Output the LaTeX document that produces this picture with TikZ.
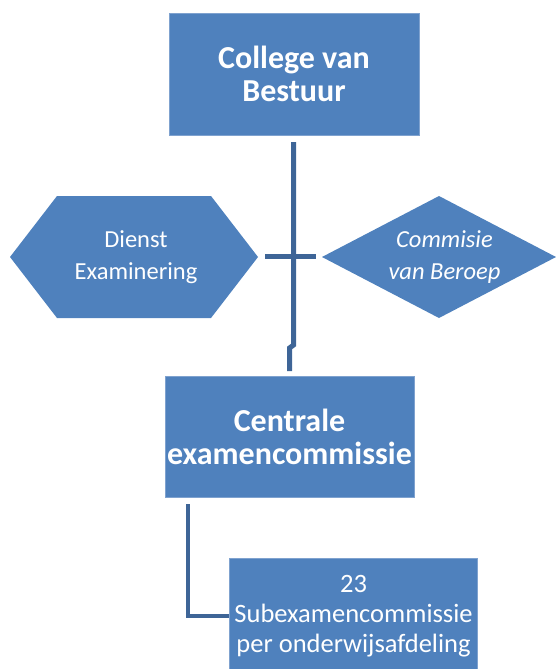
\documentclass[tikz,border=0pt]{standalone}
\usepackage{fontspec}
\setmainfont{Carlito}
\definecolor{boxblue}{HTML}{4F81BD}
\definecolor{edgeblue}{HTML}{7FA2CF}
\definecolor{linkblue}{HTML}{3E6597}
\begin{document}
\begin{tikzpicture}[x=1pt,y=-1pt,
  box/.style={fill=boxblue,draw=edgeblue,line width=0.8pt,text=white,align=center,inner sep=0pt},
  boldtext/.style={font=\fontsize{32}{33}\selectfont\bfseries},
  plaintext/.style={font=\fontsize{24.5}{32}\selectfont},
  italtext/.style={font=\fontsize{24.5}{32}\selectfont\itshape},
  link/.style={draw=linkblue,line width=5pt}]
\useasboundingbox (0,0) rectangle (555,669);

% top and middle boxes
\node[box,boldtext,minimum width=250pt,minimum height=122pt] (cvb) at (294,74) {College van\\Bestuur};
\node[box,boldtext,minimum width=249pt,minimum height=121pt] (cec) at (289.5,436.5) {Centrale\\examencommissie};
% bottom box, running off the lower edge
\filldraw[fill=boxblue,draw=edgeblue,line width=0.8pt] (229,558) rectangle (477,675);
\node[text=white,align=center,font=\fontsize{26.5}{30}\selectfont] (sub) at (353.5,616) {23\\Subexamencommissie\\per onderwijsafdeling};

% side shapes
\fill[boxblue] (10,257) -- (57,196) -- (211,196) -- (258,257) -- (211,318) -- (57,318) -- cycle;
\node[text=white,align=center,plaintext] (de) at (136,257) {Dienst\\Examinering};
\fill[boxblue] (322,257) -- (439,196) -- (556,257) -- (439,318) -- cycle;
\node[text=white,align=center,italtext] (cvbr) at (444.5,257) {Commisie\\van Beroep};

% connectors
\coordinate (t1) at (293.5,142);
\coordinate (j1) at (293.5,345);
\coordinate (j2) at (289.5,348);
\coordinate (t2) at (289.5,371);
\draw[link] (t1) -- (j1) -- (j2) -- (t2);
\coordinate (hl) at (265,256.5);
\coordinate (hr) at (316,256.5);
\draw[link] (hl) -- (hr);
\coordinate (l1) at (188,504);
\coordinate (l2) at (188,616);
\coordinate (l3) at (229,616);
\draw[link,line width=4pt] (l1) -- (l2) -- (l3);
\end{tikzpicture}
\end{document}
